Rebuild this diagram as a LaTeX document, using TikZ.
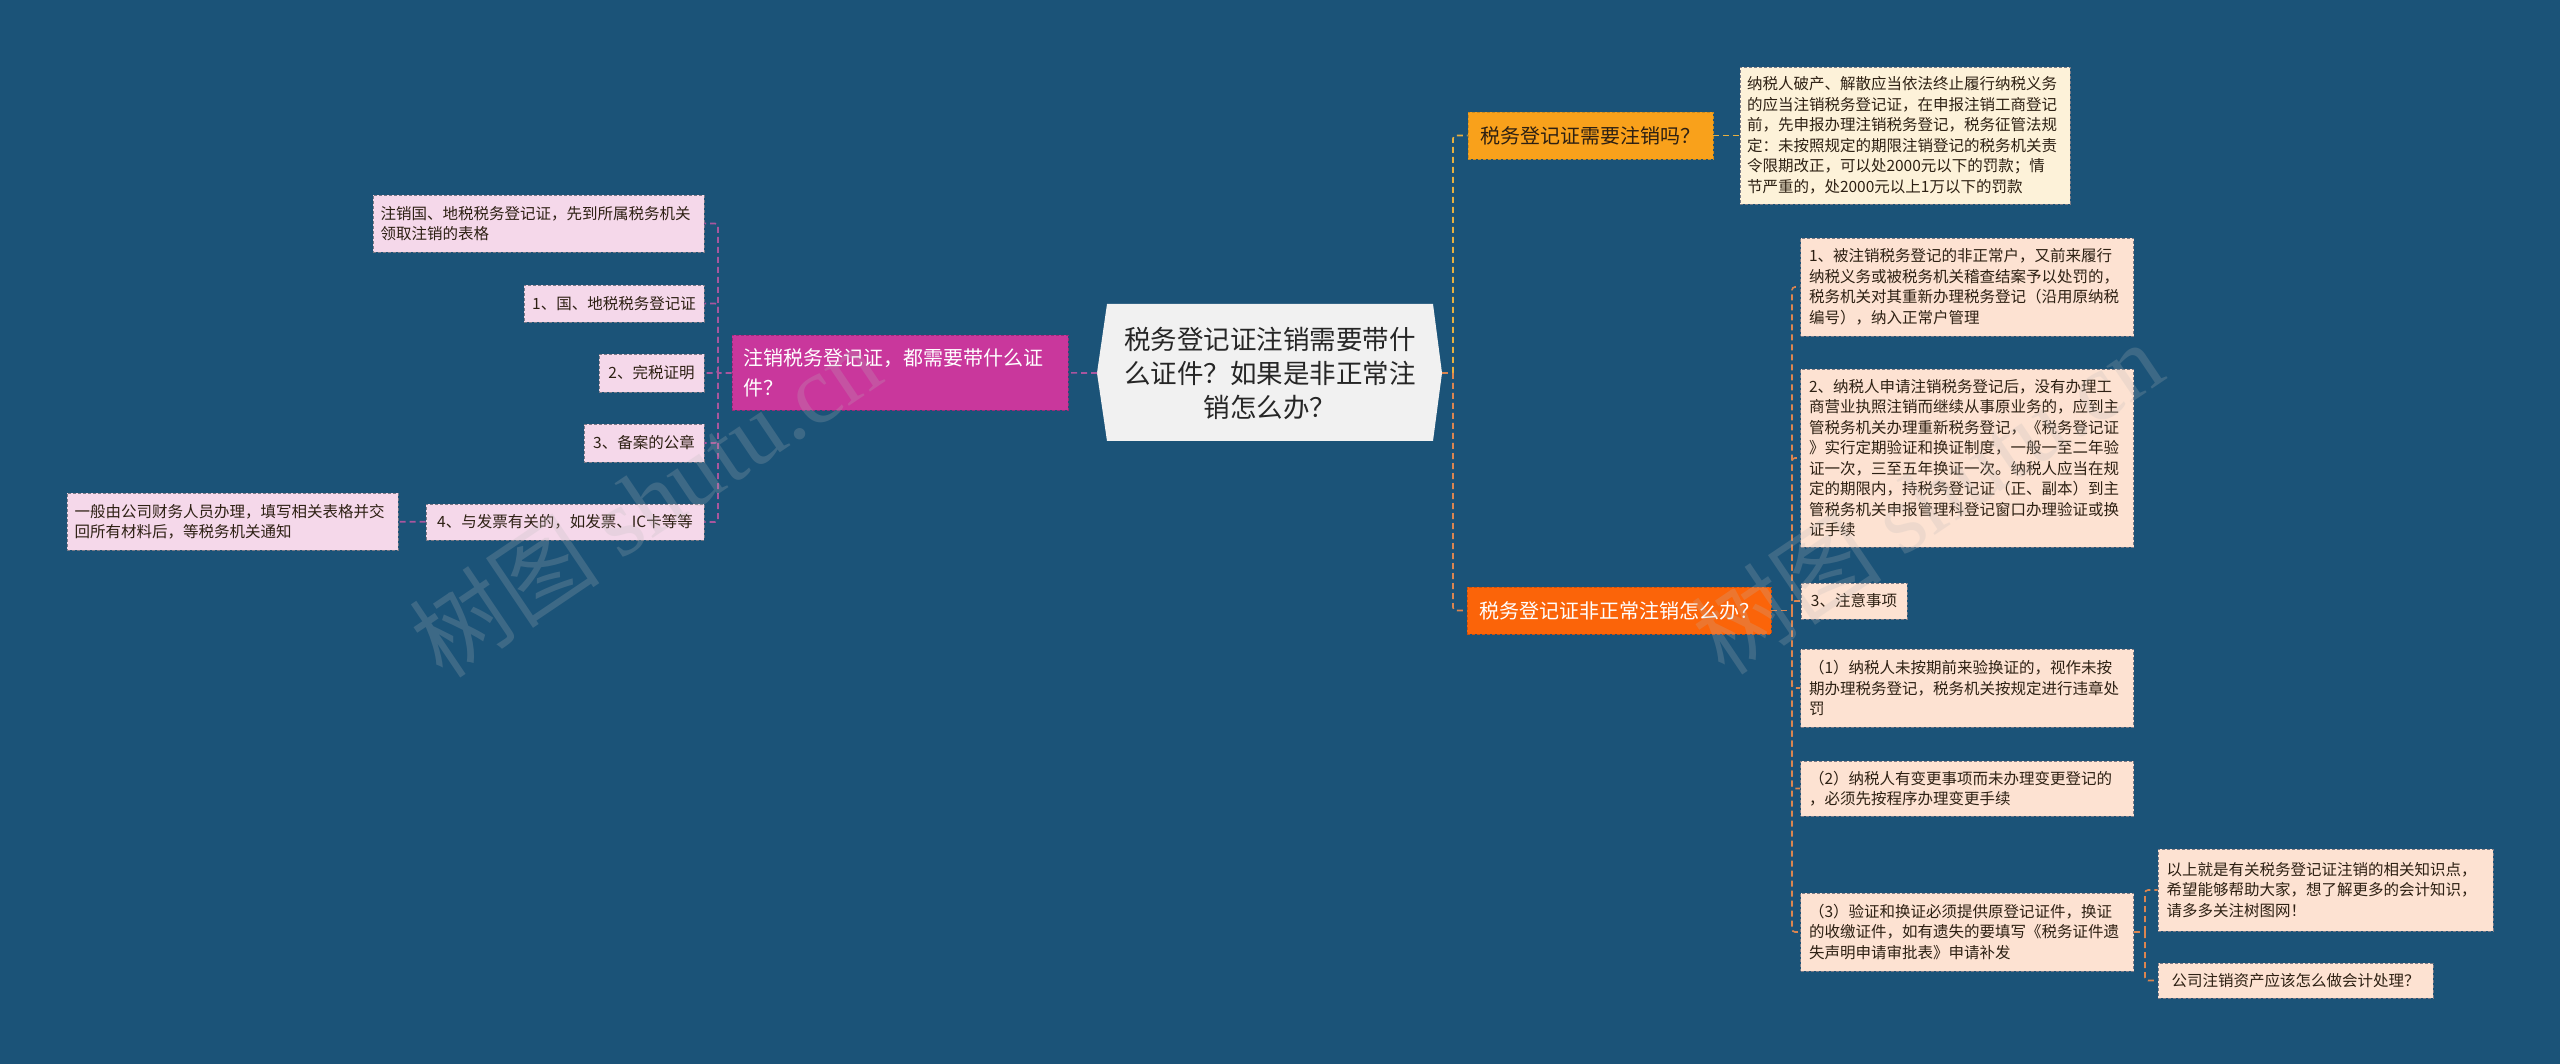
\documentclass[tikz,border=0pt]{standalone}
\usepackage{fontspec}
\setmainfont{Noto Sans CJK SC}
\newfontfamily\wmlatin{Liberation Serif}
\definecolor{bg}{HTML}{1B5378}
\definecolor{rootfill}{HTML}{F1F1F1}
\definecolor{amber}{HTML}{F9A11B}
\definecolor{amberB}{HTML}{C98A20}
\definecolor{amberL}{HTML}{E8B040}
\definecolor{orng}{HTML}{FB6409}
\definecolor{orngB}{HTML}{C85010}
\definecolor{orngL}{HTML}{DB8550}
\definecolor{magenta2}{HTML}{C9379C}
\definecolor{magentaB}{HTML}{9A2A78}
\definecolor{purpL}{HTML}{A9569E}
\definecolor{peach}{HTML}{FDE2D2}
\definecolor{pink2}{HTML}{F5D8EA}
\definecolor{cream}{HTML}{FDF2D9}
\definecolor{boxB}{HTML}{7A7A86}
\definecolor{txt}{HTML}{2D2013}
\begin{document}
\begin{tikzpicture}[x=1pt,y=-1pt,
  box/.style={rectangle, draw=boxB, dash pattern=on 3pt off 2pt, line width=0.8pt,
    inner xsep=0pt, inner ysep=0pt, align=left, text=txt,
    font=\fontsize{15.5}{20.5}\selectfont},
  peachbox/.style={box, fill=peach},
  pinkbox/.style={box, fill=pink2},
  creambox/.style={box, fill=cream},
  lvlone/.style={rectangle, dash pattern=on 3pt off 2pt, line width=0.8pt,
    inner xsep=0pt, inner ysep=0pt, minimum height=47,
    font=\fontsize{20}{26}\selectfont},
  link/.style={line width=1.6pt, dash pattern=on 6pt off 4pt, rounded corners=3pt},
  wm/.style={text=gray!55, text opacity=0.22, font=\fontsize{96}{100}\selectfont}
]
\fill[bg] (0,0) rectangle (2560,1064);
\useasboundingbox (0,0) rectangle (2560,1064);

% root hexagon
\coordinate (rootR) at (1442,373);
\coordinate (rootL) at (1097,373);
\fill[rootfill] (1107,304) -- (1433,304) -- (rootR) -- (1433,441) -- (1107,441) -- (rootL) -- cycle;
\node[align=center, text=black!85, font=\fontsize{26.5}{34}\selectfont, inner sep=0pt] (root) at (1270,373)
  {税务登记证注销需要带什\\么证件？如果是非正常注\\销怎么办？};

% right level 1
\node[lvlone, fill=amber, draw=amberB, text=txt, minimum width=245] (n1) at (1590.5,135.5) {税务登记证需要注销吗？};
\node[lvlone, fill=orng, draw=orngB, text=white, minimum width=304] (n2) at (1619,610.5) {税务登记证非正常注销怎么办？};

\node[creambox, minimum width=330, minimum height=137, text width=316] (c1) at (1905,135.5)
  {纳税人破产、解散应当依法终止履行纳税义务\\的应当注销税务登记证，在申报注销工商登记\\前，先申报办理注销税务登记，税务征管法规\\定：未按照规定的期限注销登记的税务机关责\\令限期改正，可以处2000元以下的罚款；情\\节严重的，处2000元以上1万以下的罚款};

\node[peachbox, minimum width=333, minimum height=98, text width=316] (b1) at (1967,287)
  {1、被注销税务登记的非正常户，又前来履行\\纳税义务或被税务机关稽查结案予以处罚的，\\税务机关对其重新办理税务登记（沿用原纳税\\编号），纳入正常户管理};
\node[peachbox, minimum width=333, minimum height=178, text width=316] (b2) at (1967,458)
  {2、纳税人申请注销税务登记后，没有办理工\\商营业执照注销而继续从事原业务的，应到主\\管税务机关办理重新税务登记，《税务登记证\\》实行定期验证和换证制度，一般一至二年验\\证一次，三至五年换证一次。纳税人应当在规\\定的期限内，持税务登记证（正、副本）到主\\管税务机关申报管理科登记窗口办理验证或换\\证手续};
\node[peachbox, align=center, minimum width=106, minimum height=36] (b3) at (1854,601) {3、注意事项};
\node[peachbox, minimum width=333, minimum height=78, text width=316] (p1) at (1967,688)
  {（1）纳税人未按期前来验换证的，视作未按\\期办理税务登记，税务机关按规定进行违章处\\罚};
\node[peachbox, minimum width=333, minimum height=55, text width=316] (p2) at (1967,788.5)
  {（2）纳税人有变更事项而未办理变更登记的\\，必须先按程序办理变更手续};
\node[peachbox, minimum width=333, minimum height=78, text width=316] (p3) at (1967,932)
  {（3）验证和换证必须提供原登记证件，换证\\的收缴证件，如有遗失的要填写《税务证件遗\\失声明申请审批表》申请补发};
\node[peachbox, minimum width=335, minimum height=82, text width=318] (q1) at (2325.5,890)
  {以上就是有关税务登记证注销的相关知识点，\\希望能够帮助大家，想了解更多的会计知识，\\请多多关注树图网！};
\node[peachbox, align=center, minimum width=275, minimum height=35] (q2) at (2295.5,980.5) {公司注销资产应该怎么做会计处理？};

% left
\node[lvlone, fill=magenta2, draw=magentaB, text=white, align=left, text width=314,
  minimum width=336, minimum height=75, font=\fontsize{20}{30}\selectfont] (m) at (900,372.5)
  {注销税务登记证，都需要带什么证\\件？};
\node[pinkbox, minimum width=331, minimum height=57, text width=316] (la) at (538.5,223.5)
  {注销国、地税税务登记证，先到所属税务机关\\领取注销的表格};
\node[pinkbox, align=center, minimum width=180, minimum height=37] (l1) at (614,303.5) {1、国、地税税务登记证};
\node[pinkbox, align=center, minimum width=105, minimum height=38] (l2) at (651.5,373) {2、完税证明};
\node[pinkbox, align=center, minimum width=120, minimum height=38] (l3) at (644,443) {3、备案的公章};
\node[pinkbox, align=center, minimum width=278, minimum height=36] (l4) at (565,522) {4、与发票有关的，如发票、IC卡等等};
\node[pinkbox, minimum width=331, minimum height=57, text width=316] (l5) at (232.5,521.5)
  {一般由公司财务人员办理，填写相关表格并交\\回所有材料后，等税务机关通知};

% connectors right
\coordinate (jR) at (1453,373);
\coordinate (j2) at (1792,610.5);
\coordinate (j3) at (2145,932);
\draw[link, draw=orngL] (rootR) -- (jR);
\draw[link, draw=amberL] (jR) |- (n1);
\draw[link, draw=orngL] (jR) |- (n2);
\draw[link, draw=amberL] (n1) -- (c1);
\draw[link, draw=orngL] (n2) -- (j2);
\foreach \t in {b1,b2,b3,p1,p2,p3} \draw[link, draw=orngL] (j2) |- (\t);
\draw[link, draw=orngL] (p3) -- (j3);
\draw[link, draw=orngL] (j3) |- (q1);
\draw[link, draw=orngL] (j3) |- (q2);

% connectors left
\coordinate (jL) at (718,373);
\draw[link, draw=purpL] (rootL) -- (m);
\draw[link, draw=purpL] (m) -- (jL);
\foreach \t in {la,l1,l2,l3,l4} \draw[link, draw=purpL] (jL) |- (\t);
\draw[link, draw=purpL] (l4) -- (l5);

% watermarks
\node[wm, rotate=34] (w1) at (645,500) {树图 {\wmlatin shutu.cn}};
\node[wm, rotate=34] (w2) at (1927,497) {树图 {\wmlatin shutu.cn}};
\end{tikzpicture}
\end{document}
